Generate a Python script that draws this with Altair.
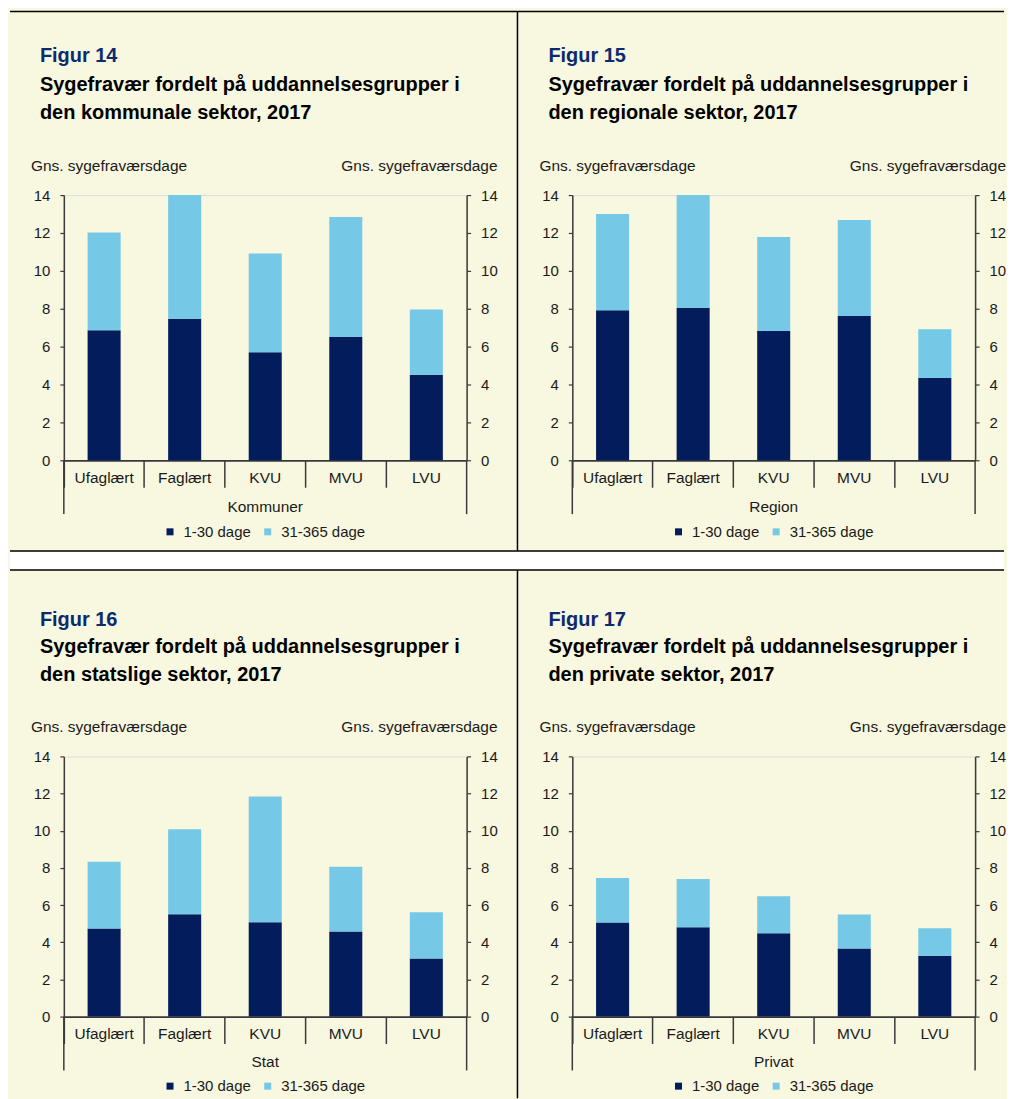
import altair as alt
import pandas as pd

# ---------------- data ----------------
categories = ["Ufaglært", "Faglært", "KVU", "MVU", "LVU"]
series = ["1-30 dage", "31-365 dage"]
y_ticks = [0, 2, 4, 6, 8, 10, 12, 14]

kommune_kort = [6.86, 7.47, 5.70, 6.51, 4.51]
kommune_lang = [5.16, 6.53, 5.21, 6.33, 3.45]
region_kort = [7.92, 8.04, 6.83, 7.62, 4.35]
region_lang = [5.08, 5.96, 4.96, 5.07, 2.57]
stat_kort = [4.74, 5.51, 5.08, 4.58, 3.13]
stat_lang = [3.59, 4.57, 6.76, 3.48, 2.48]
privat_kort = [5.06, 4.81, 4.49, 3.67, 3.27]
privat_lang = [2.40, 2.59, 1.98, 1.82, 1.49]

figure_labels = ["Figur 14", "Figur 15", "Figur 16", "Figur 17"]
title_line1 = "Sygefravær fordelt på uddannelsesgrupper i"
title_line2 = [
    "den kommunale sektor, 2017",
    "den regionale sektor, 2017",
    "den statslige sektor, 2017",
    "den private sektor, 2017",
]
sectors = ["Kommuner", "Region", "Stat", "Privat"]
y_title = "Gns. sygefraværsdage"

# ---------------- style ----------------
FONT = "Liberation Sans"
CREAM = "#f8f7e0"
NAVY = "#031c5b"
LIGHT = "#75c9e6"
FIGCOL = "#0c2a6e"
TXT = "#1a1a1a"
AX = "#3a3a3a"
W = 404
RIGHT_EDGE = 943  # relative to left plot origin (page x ~1005)


def text_layer(s, x, y, size=15.5, bold=False, color=TXT, align="left"):
    return alt.Chart(pd.DataFrame({"t": [s]})).mark_text(
        font=FONT, fontSize=size, fontWeight="bold" if bold else "normal",
        color=color, align=align, baseline="middle",
    ).encode(text="t:N", x=alt.value(x), y=alt.value(y))


def rule_layer(x, x2, y, y2, color="black", width=1.5):
    return alt.Chart(pd.DataFrame({"a": [0]})).mark_rule(
        color=color, strokeWidth=width, clip=False
    ).encode(x=alt.value(x), x2=alt.value(x2), y=alt.value(y), y2=alt.value(y2))


def make_panel(i, kort, lang, height, offs):
    fig_y, t1_y, t2_y, gns_y, sec_dy, leg_dy = offs
    df = pd.DataFrame({
        "Uddannelse": categories * 2,
        "Periode": [series[0]] * 5 + [series[1]] * 5,
        "Dage": kort + lang,
        "Orden": [0] * 5 + [1] * 5,
    })
    yscale = alt.Scale(domain=[0, 14], nice=False, zero=True)
    yax = dict(values=y_ticks, title=None, grid=False, tickSize=4,
               labelFontSize=15, labelFont=FONT, labelColor=TXT, labelPadding=10,
               domainColor=AX, domainWidth=1.5, tickColor=AX, tickWidth=1.2)
    bars = alt.Chart(df).mark_bar(width=alt.RelativeBandSize(0.41)).encode(
        x=alt.X("Uddannelse:N", sort=categories,
                scale=alt.Scale(paddingInner=0, paddingOuter=0),
                axis=alt.Axis(title=None, labelAngle=0, labelFontSize=15.5, labelFont=FONT,
                              labelColor=TXT, labelPadding=-17, bandPosition=0,
                              tickSize=27, tickColor=AX, tickWidth=1.5,
                              domainColor=AX, domainWidth=1.8)),
        y=alt.Y("Dage:Q", stack="zero", scale=yscale, axis=alt.Axis(orient="left", **yax)),
        color=alt.Color("Periode:N", scale=alt.Scale(domain=series, range=[NAVY, LIGHT]),
                        legend=alt.Legend(orient="none", direction="horizontal",
                                          legendX=99, legendY=height + leg_dy - 7,
                                          title=None, symbolType="square", symbolSize=49,
                                          symbolStrokeWidth=0, labelFontSize=15, labelFont=FONT,
                                          labelColor=TXT, labelOffset=6, columnPadding=9,
                                          padding=0)),
        order=alt.Order("Orden:Q", sort="ascending"),
    )
    right = alt.Chart(df).mark_point(opacity=0).encode(
        y=alt.Y("Dage:Q", scale=yscale, axis=alt.Axis(orient="right", **yax))
    )
    layers = []
    # decorations (borders, white band)
    if i == 0:
        layers.append(alt.Chart(pd.DataFrame({"a": [0]})).mark_rect(color="white", clip=False).encode(
            x=alt.value(-54), x2=alt.value(RIGHT_EDGE), y=alt.value(358), y2=alt.value(376)))
        layers.append(rule_layer(-54, RIGHT_EDGE, -184.2, -184.2))
        layers.append(rule_layer(-54, RIGHT_EDGE, 357, 357))
        layers.append(rule_layer(-54, RIGHT_EDGE, 376, 376))
        layers.append(rule_layer(455, 455, -184.2, 357))
    if i == 2:
        layers.append(rule_layer(455, 455, -187, 343))
    layers += [bars, right]
    # outer long separators
    layers.append(rule_layer(0, 0, height, height + 54, color=AX))
    layers.append(rule_layer(W, W, height, height + 54, color=AX))
    # texts
    layers.append(text_layer(figure_labels[i], -24, fig_y, size=20, bold=True, color=FIGCOL))
    layers.append(text_layer(title_line1, -24, t1_y, size=20, bold=True, color="black"))
    layers.append(text_layer(title_line2[i], -24, t2_y, size=20, bold=True, color="black"))
    layers.append(text_layer(y_title, -33, gns_y))
    layers.append(text_layer(y_title, W + 31, gns_y, align="right"))
    layers.append(text_layer(sectors[i], W / 2, height + sec_dy, align="center"))
    return alt.layer(*layers).resolve_axis(y="independent").properties(width=W, height=height)


top_offs = (-139, -110, -82, -29, 47, 71)
bot_offs = (-137, -110, -82, -29, 46, 69)

p14 = make_panel(0, kommune_kort, kommune_lang, 266, top_offs)
p15 = make_panel(1, region_kort, region_lang, 266, top_offs)
p16 = make_panel(2, stat_kort, stat_lang, 261, bot_offs)
p17 = make_panel(3, privat_kort, privat_lang, 261, bot_offs)

chart = alt.concat(
    p14, p15, p16, p17, columns=2,
    spacing={"row": 297, "column": 106}, bounds="flush",
).resolve_scale(color="independent").resolve_legend(color="independent").properties(
    padding=0, background=CREAM
).configure_view(stroke=None).configure(font=FONT)

chart.save("out.html", embed_options={"renderer": "svg", "actions": False})
